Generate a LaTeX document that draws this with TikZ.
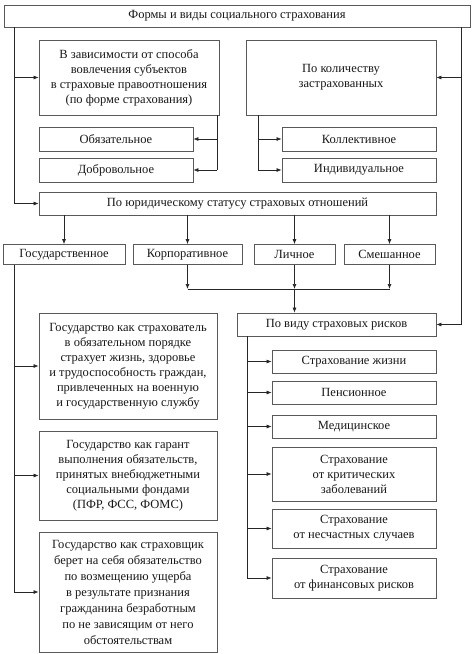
\documentclass[tikz,border=0pt]{standalone}
\usepackage{fontspec}
\setmainfont{Liberation Serif}
\usetikzlibrary{arrows.meta}
\begin{document}
\begin{tikzpicture}[x=1pt,y=-1pt,
  box/.style={draw=black!65, line width=0.8pt, inner sep=1pt, align=center, text=black!90,
     font=\fontsize{12.5}{15}\selectfont},
  conn/.style={draw=black!85, line width=0.7pt},
  arr/.style={conn, -{Latex[length=5pt,width=4pt]}}]
\useasboundingbox (0,0) rectangle (474,654);
\fill[white] (0,0) rectangle (474,654);
% nodes
\node[box, minimum width=466pt, minimum height=22pt] (top) at (237,16) {Формы и виды социального страхования};
\node[box, minimum width=180pt, minimum height=75pt] (A) at (129,77.5) {В зависимости от способа\\вовлечения субъектов\\в страховые правоотношения\\(по форме страхования)};
\node[box, minimum width=190pt, minimum height=75pt] (B) at (341,77.5) {По количеству\\застрахованных};
\node[box, minimum width=154pt, minimum height=24pt] (obl) at (116,139) {Обязательное};
\node[box, minimum width=154pt, minimum height=24pt] (dobr) at (116,170) {Добровольное};
\node[box, minimum width=154pt, minimum height=24pt] (koll) at (359,139) {Коллективное};
\node[box, minimum width=154pt, minimum height=24pt] (ind) at (359,170) {Индивидуальное};
\node[box, minimum width=397pt, minimum height=23pt] (jur) at (237.5,203.5) {По юридическому статусу страховых отношений};
\node[box, minimum width=122pt, minimum height=20pt] (gos) at (64,254.5) {Государственное};
\node[box, minimum width=109pt, minimum height=20pt] (korp) at (187.5,254.5) {Корпоративное};
\node[box, minimum width=81pt, minimum height=20pt] (lich) at (294.5,254.5) {Личное};
\node[box, minimum width=91pt, minimum height=20pt] (smesh) at (389.5,254.5) {Смешанное};
\node[box, minimum width=199pt, minimum height=23pt] (vid) at (336.5,324.5) {По виду страховых рисков};
\node[box, minimum width=178pt, minimum height=106pt] (G1) at (128,366) {Государство как страхователь\\в обязательном порядке\\страхует жизнь, здоровье\\и трудоспособность граждан,\\привлеченных на военную\\и государственную службу};
\node[box, minimum width=178pt, minimum height=89pt] (G2) at (128,475.5) {Государство как гарант\\выполнения обязательств,\\принятых внебюджетными\\социальными фондами\\(ПФР, ФСС, ФОМС)};
\node[box, minimum width=178pt, minimum height=120pt, font=\fontsize{12.5}{16}\selectfont] (G3) at (128,592) {Государство как страховщик\\берет на себя обязательство\\по возмещению ущерба\\в результате признания\\гражданина безработным\\по не зависящим от него\\обстоятельствам};
\node[box, minimum width=164pt, minimum height=23pt] (R1) at (354,361.5) {Страхование жизни};
\node[box, minimum width=164pt, minimum height=23pt] (R2) at (354,392.5) {Пенсионное};
\node[box, minimum width=164pt, minimum height=23pt] (R3) at (354,426.5) {Медицинское};
\node[box, minimum width=164pt, minimum height=54pt] (R4) at (354,474) {Страхование\\от критических\\заболеваний};
\node[box, minimum width=164pt, minimum height=39pt] (R5) at (354,528.5) {Страхование\\от несчастных случаев};
\node[box, minimum width=164pt, minimum height=40pt] (R6) at (354,578) {Страхование\\от финансовых рисков};
% trunk coordinates
\coordinate (L) at (14,0);
\coordinate (R) at (461,0);
\coordinate (a1) at (217,0);
\coordinate (b1) at (258,0);
\coordinate (bus) at (0,289);
\coordinate (K) at (247,0);
% left and right trunks
\draw[conn] (top.south -| L) -- (jur.west -| L);
\draw[arr] (A.west -| L) -- (A.west);
\draw[arr] (jur.west -| L) -- (jur.west);
\draw[conn] (top.south -| R) -- (vid.east -| R);
\draw[arr] (B.east -| R) -- (B.east);
\draw[arr] (vid.east -| R) -- (vid.east);
% form connectors
\draw[conn] (A.south -| a1) -- (dobr.east -| a1);
\draw[arr] (obl.east -| a1) -- (obl.east);
\draw[arr] (dobr.east -| a1) -- (dobr.east);
\draw[conn] (B.south -| b1) -- (ind.west -| b1);
\draw[arr] (koll.west -| b1) -- (koll.west);
\draw[arr] (ind.west -| b1) -- (ind.west);
% legal status
\draw[arr] (jur.south -| gos) -- (gos.north);
\draw[arr] (jur.south -| korp) -- (korp.north);
\draw[arr] (jur.south -| lich) -- (lich.north);
\draw[arr] (jur.south -| smesh) -- (smesh.north);
\draw[arr] (korp.south) -- (korp.south |- bus);
\draw[arr] (lich.south) -- (lich.south |- bus);
\draw[arr] (smesh.south) -- (smesh.south |- bus);
\draw[conn] (korp.south |- bus) -- (smesh.south |- bus);
\draw[arr] (lich.south |- bus) -- (vid.north -| lich);
% state branch
\draw[conn] (gos.south -| L) -- (G3.west -| L);
\draw[arr] (G1.west -| L) -- (G1.west);
\draw[arr] (G2.west -| L) -- (G2.west);
\draw[arr] (G3.west -| L) -- (G3.west);
% risks branch
\draw[conn] (vid.south -| K) -- (R6.west -| K);
\draw[arr] (R1.west -| K) -- (R1.west);
\draw[arr] (R2.west -| K) -- (R2.west);
\draw[arr] (R3.west -| K) -- (R3.west);
\draw[arr] (R4.west -| K) -- (R4.west);
\draw[arr] (R5.west -| K) -- (R5.west);
\draw[arr] (R6.west -| K) -- (R6.west);
\end{tikzpicture}
\end{document}
